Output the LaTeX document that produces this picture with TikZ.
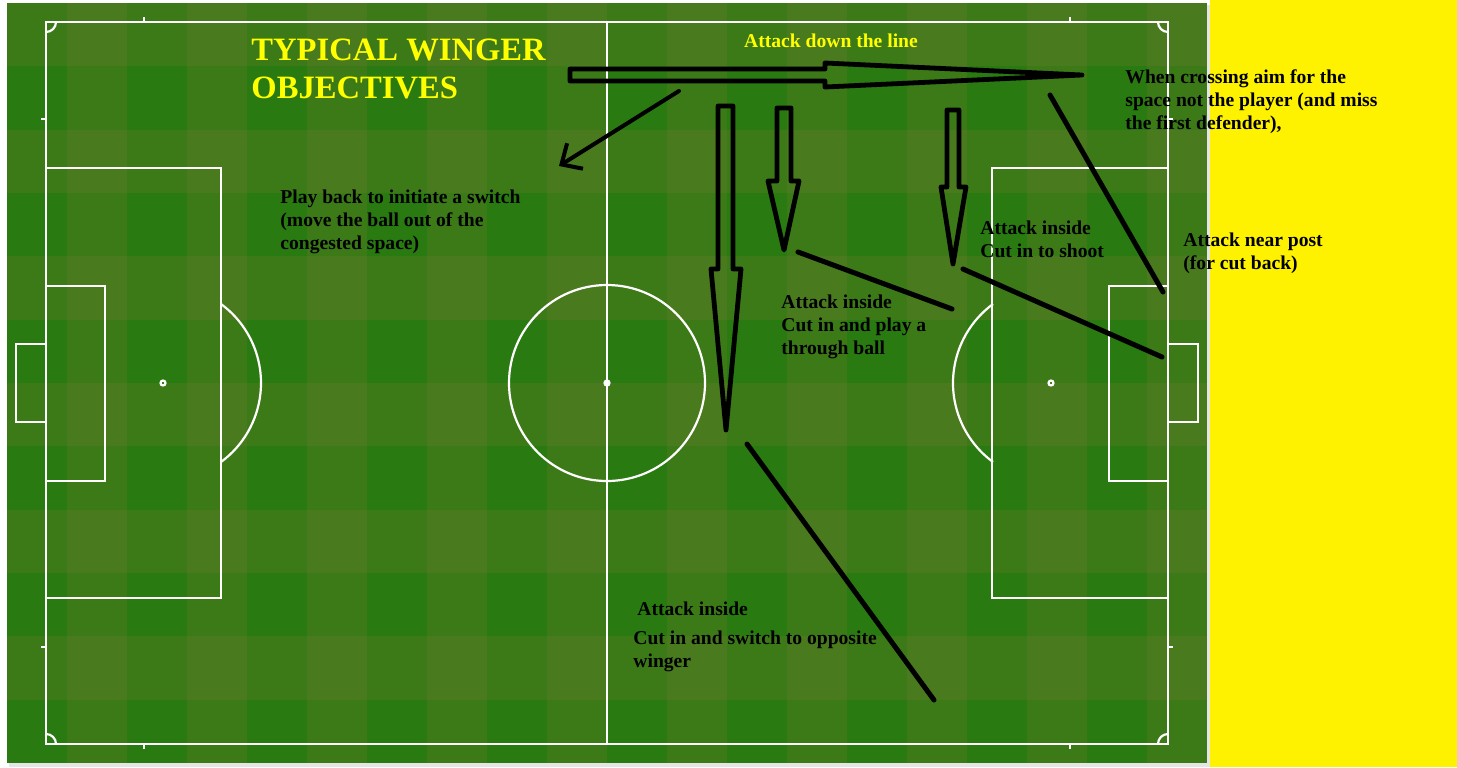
\documentclass[tikz,border=0pt]{standalone}
\usepackage{fontspec}
\setmainfont{Liberation Serif}
\usetikzlibrary{positioning}
\usetikzlibrary{arrows.meta}
\definecolor{grass}{RGB}{41,122,16}
\definecolor{grasslight}{RGB}{105,122,44}
\definecolor{sidebar}{RGB}{255,242,0}
\definecolor{titleyellow}{RGB}{255,255,0}
\tikzset{stripe/.style={fill=grasslight,fill opacity=0.3}}
\tikzset{pline/.style={draw=white,line width=1.1pt}}
\tikzset{note/.style={inner sep=0pt,anchor=west,align=left,font=\fontsize{9.8}{11.5}\selectfont\bfseries}}
\tikzset{heading/.style={inner sep=0pt,anchor=north west,align=left,text=titleyellow,font=\fontsize{16.3}{18.8}\selectfont\bfseries}}
\tikzset{stroke/.style={line width=2.5pt,line cap=round}}
\tikzset{blockarrow/.style={draw=black,line width=2.4pt,line join=round}}

\begin{document}
\begin{tikzpicture}[x=0.5pt,y=-0.5pt]
    \useasboundingbox (0,0) rectangle (1457,767);
    \fill[white] (0,0) rectangle (1457,767);
    % grass with mown stripes
    \fill[black!10] (9,5) rectangle (1210,767);
    \fill[grass] (7,3) rectangle (1207,763);
    \foreach \c in {1,3,...,19}
        \fill[stripe] ({7+60*\c},3) rectangle ({67+60*\c},763);
    \foreach \r in {0,2,...,10}
        \fill[stripe] (7,{3+63.333*\r}) rectangle (1207,{66.333+63.333*\r});
    \fill[sidebar] (1210,0) rectangle (1457,767);

    % pitch markings
    \draw[pline] (46,22) rectangle (1168,744);
    \draw[pline] (607,22) -- (607,744);
    \draw[pline] (607,383) circle[radius=98];
    \draw[pline] (607,383) circle[radius=2.5];
    \draw[pline] (46,168) rectangle (221,598);
    \draw[pline] (46,286) rectangle (105,481);
    \draw[pline] (46,344) -- (16,344) -- (16,422) -- (46,422);
    \draw[pline] (163,383) circle[radius=2.5];
    \draw[pline] (163,383) ++(-53.7:98) arc[start angle=-53.7,end angle=53.7,radius=98];
    \draw[pline] (1168,168) rectangle (992,598);
    \draw[pline] (1168,286) rectangle (1109,481);
    \draw[pline] (1168,344) -- (1198,344) -- (1198,422) -- (1168,422);
    \draw[pline] (1051,383) circle[radius=2.5];
    \draw[pline] (1051,383) ++(126.3:98) arc[start angle=126.3,end angle=233.7,radius=98];
    \draw[pline] (56,22) arc[start angle=0,end angle=90,radius=10];
    \draw[pline] (1158,22) arc[start angle=180,end angle=90,radius=10];
    \draw[pline] (56,744) arc[start angle=0,end angle=-90,radius=10];
    \draw[pline] (1158,744) arc[start angle=180,end angle=270,radius=10];
    \foreach \x in {144,1070} {
        \draw[pline] (\x,22) -- (\x,17);
        \draw[pline] (\x,744) -- (\x,749);
    }
    \foreach \y in {119,647} {
        \draw[pline] (46,\y) -- (41,\y);
        \draw[pline] (1168,\y) -- (1173,\y);
    }

    % texts
    \node[heading] (title) at (251,39) {TYPICAL WINGER\\OBJECTIVES};
    \node[note, anchor=center, text=titleyellow] (downline) at (831,41) {Attack down the line};
    \node[note] (playback) at (280,222) {Play back to initiate a switch\\(move the ball out of the\\congested space)};
    \node[note] (throughball) at (781,327) {Attack inside\\Cut in and play a\\through ball};
    \node[note] (shoot) at (980,239) {Attack inside\\Cut in to shoot};
    \node[note] (nearpost) at (1183,253) {Attack near post\\(for cut back)};
    \node[note] (crossing) at (1125,102) {When crossing aim for the\\space not the player (and miss\\the first defender),};
    \node[note] (inside) at (637,609) {Attack inside};
    \node[note] (switch) at (633,651) {Cut in and switch to opposite\\winger};

    % block arrows
    \draw[blockarrow] (570,69) -- (825,69) -- (825,63) -- (1082,75) -- (825,87) -- (825,81) -- (570,81) -- cycle;
    \draw[blockarrow] (718,106) -- (733,106) -- (733,269) -- (741,269) -- (726,430) -- (711,269) -- (718,269) -- cycle;
    \draw[blockarrow] (777,108) -- (791,108) -- (791,181) -- (799,181) -- (784,250) -- (768,181) -- (777,181) -- cycle;
    \draw[blockarrow] (947,110) -- (959,110) -- (959,187) -- (966,187) -- (953,264) -- (941,187) -- (947,187) -- cycle;

    % lines
    \coordinate (backA) at (679,91);
    \coordinate (backB) at (559,166);
    \coordinate (ballA) at (798,252);
    \coordinate (ballB) at (952,309);
    \coordinate (shootA) at (963,269);
    \coordinate (shootB) at (1162,357);
    \coordinate (postA) at (1050,95);
    \coordinate (postB) at (1163,292);
    \coordinate (switchA) at (747,444);
    \coordinate (switchB) at (934,700);
    \draw[line width=2pt, line cap=round, -{Straight Barb[length=8pt,width=15pt]}] (backA) -- (backB);
    \draw[stroke] (ballA) -- (ballB);
    \draw[stroke] (shootA) -- (shootB);
    \draw[stroke] (postA) -- (postB);
    \draw[stroke] (switchA) -- (switchB);
\end{tikzpicture}
\end{document}
